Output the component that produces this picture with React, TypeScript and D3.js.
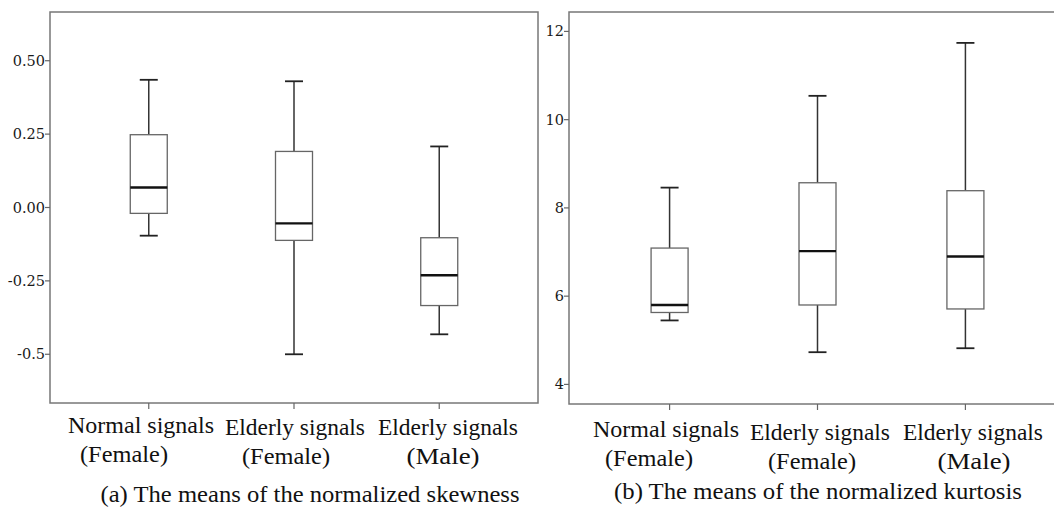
import React from "react";
import * as d3 from "d3";

const categories = ["Normal signals (Female)", "Elderly signals (Female)", "Elderly signals (Male)"];
const labelLine1 = ["Normal signals", "Elderly signals", "Elderly signals"];
const labelLine2 = ["(Female)", "(Female)", "(Male)"];

// [lowerWhisker, q1, median, q3, upperWhisker]
const skewnessStats = [
  [-0.096, -0.02, 0.068, 0.248, 0.435],
  [-0.5, -0.112, -0.054, 0.191, 0.43],
  [-0.432, -0.334, -0.231, -0.103, 0.208],
];
const kurtosisStats = [
  [5.45, 5.63, 5.8, 7.09, 8.46],
  [4.73, 5.8, 7.02, 8.57, 10.54],
  [4.82, 5.71, 6.9, 8.39, 11.74],
];
const skewTicks = [0.5, 0.25, 0, -0.25, -0.5];
const skewTickLabels = ["0.50", "0.25", "0.00", "-0.25", "-0.5"];
const kurtTicks = [12, 10, 8, 6, 4];
const kurtTickLabels = ["12", "10", "8", "6", "4"];

const captionA = "(a) The means of the normalized skewness";
const captionB = "(b) The means of the normalized kurtosis";

type PanelProps = {
  x0: number; x1: number; xRangeEnd: number; y0: number; y1: number;
  domain: [number, number]; stats: number[][]; ticks: number[]; tickLabels: string[];
  line1Y: number[]; line2Y: number[]; line1X: number[]; line2X: number[];
  caption: string; captionX: number; captionY: number; captionLen: number;
};

const serif = "'Liberation Serif', 'DejaVu Serif', serif";

function Panel(p: PanelProps) {
  const y = d3.scaleLinear().domain(p.domain).range([p.y1, p.y0]);
  const x = d3.scalePoint<string>().domain(categories).range([p.x0, p.xRangeEnd]).padding(0.68);
  const boxW = 37;
  const capW = 18;
  const l1Len = [146, 140, 140];
  const l2Len = [88, 88, 73];
  return (
    <g>
      {p.stats.map((s, i) => {
        const cx = x(categories[i]) as number;
        const [lo, q1, med, q3, hi] = s;
        return (
          <g key={i}>
            <line x1={cx} x2={cx} y1={y(hi)} y2={y(q3)} stroke="#333" strokeWidth={1.5} />
            <line x1={cx} x2={cx} y1={y(q1)} y2={y(lo)} stroke="#333" strokeWidth={1.5} />
            <line x1={cx - capW / 2} x2={cx + capW / 2} y1={y(hi)} y2={y(hi)} stroke="#222" strokeWidth={1.8} />
            <line x1={cx - capW / 2} x2={cx + capW / 2} y1={y(lo)} y2={y(lo)} stroke="#222" strokeWidth={1.8} />
            <rect x={cx - boxW / 2} y={y(q3)} width={boxW} height={y(q1) - y(q3)} fill="white" stroke="#666" strokeWidth={1.3} />
            <line x1={cx - boxW / 2} x2={cx + boxW / 2} y1={y(med)} y2={y(med)} stroke="#111" strokeWidth={2.4} />
          </g>
        );
      })}
      <rect x={p.x0} y={p.y0} width={p.x1 - p.x0} height={p.y1 - p.y0} fill="none" stroke="#777" strokeWidth={1.5} />
      {p.ticks.map((t, i) => (
        <g key={i}>
          <line x1={p.x0 - 5} x2={p.x0} y1={y(t)} y2={y(t)} stroke="#666" strokeWidth={1.2} />
          <text x={p.x0 - 5} y={y(t)} dy="0.35em" textAnchor="end" fontFamily="'DejaVu Serif', serif" fontSize={14.5} fill="#1a1a1a">
            {p.tickLabels[i]}
          </text>
        </g>
      ))}
      {categories.map((c) => (
        <line key={c} x1={x(c) as number} x2={x(c) as number} y1={p.y1} y2={p.y1 + 6} stroke="#666" strokeWidth={1.2} />
      ))}
      {categories.map((c, i) => (
        <g key={"l" + i} fontFamily={serif} fontSize={23} fill="#111">
          <text x={p.line1X[i]} y={p.line1Y[i]} textAnchor="middle" textLength={l1Len[i]} lengthAdjust="spacingAndGlyphs">{labelLine1[i]}</text>
          <text x={p.line2X[i]} y={p.line2Y[i]} textAnchor="middle" textLength={l2Len[i]} lengthAdjust="spacingAndGlyphs">{labelLine2[i]}</text>
        </g>
      ))}
      <text x={p.captionX} y={p.captionY} textAnchor="middle" fontFamily={serif} fontSize={23} fill="#111" textLength={p.captionLen} lengthAdjust="spacingAndGlyphs">
        {p.caption}
      </text>
    </g>
  );
}

export default function App() {
  return (
    <svg width={1054} height={510} style={{ position: "absolute", left: 0, top: 0, background: "white" }}>
      <rect width={1054} height={510} fill="white" />
      <Panel x0={50} x1={538} xRangeEnd={538} y0={12} y1={403} domain={[-0.666, 0.666]}
        stats={skewnessStats} ticks={skewTicks} tickLabels={skewTickLabels}
        line1X={[141, 295, 448]} line1Y={[433, 435, 435]} line2X={[124, 286, 443]} line2Y={[462, 464, 464]}
        caption={captionA} captionX={310} captionY={502} captionLen={419} />
      <Panel x0={569} x1={1066} xRangeEnd={1066} y0={12} y1={404} domain={[3.556, 12.44]}
        stats={kurtosisStats} ticks={kurtTicks} tickLabels={kurtTickLabels}
        line1X={[666, 820, 973]} line1Y={[437, 440, 440]} line2X={[649, 812, 974]} line2Y={[466, 469, 469]}
        caption={captionB} captionX={818} captionY={499} captionLen={408} />
    </svg>
  );
}
